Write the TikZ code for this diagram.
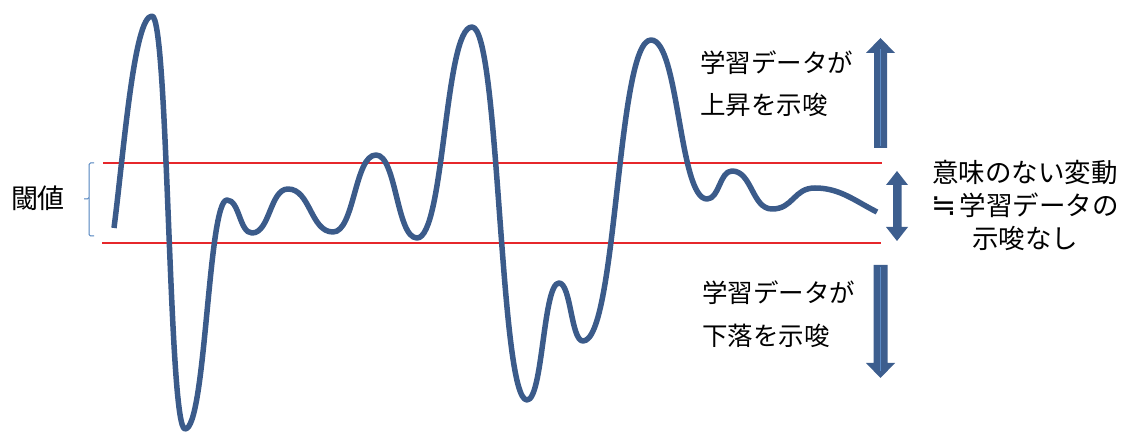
\documentclass[tikz,border=0pt]{standalone}
\usepackage{fontspec}
\newfontfamily\jp{Noto Sans CJK JP}
\newfontfamily\symf{DejaVu Sans}
\definecolor{wavec}{HTML}{3B5B8A}
\definecolor{arrowc}{HTML}{3D5E8E}
\definecolor{hlc}{HTML}{5B8BC7}
\definecolor{redl}{HTML}{E6272B}
\definecolor{bracec}{HTML}{4F81BD}
\tikzset{
  wave/.style={draw=wavec, line width=5.5pt, line cap=butt, line join=round},
  thresh/.style={draw=redl, line width=1.5pt},
  bigarrow/.style={fill=arrowc},
  highlight/.style={draw=hlc, line width=1.8pt},
  lbl/.style={font=\jp\fontsize{25.5}{42.5}\selectfont, inner sep=0pt, align=left},
}
\begin{document}
\begin{tikzpicture}[x=1pt,y=-1pt]
\useasboundingbox (0,0) rectangle (1133,435);
% threshold lines
\draw[thresh] (103,163) -- (882,163);
\draw[thresh] (102,243) -- (881,243);
% bracket
\draw[draw=bracec, line width=1pt, rounded corners=1.5pt] (94,163) -- (89,163) -- (89,199) -- (84,199);
\draw[draw=bracec, line width=1pt, rounded corners=1.5pt] (89,198) -- (89,236) -- (94,236);
\node[lbl, font=\jp\fontsize{27}{30}\selectfont] (thr) at (38,198) {閾値};
% wave
\draw[wave] (114,228) .. controls (124,150) and (134,16) .. (152,16)
 .. controls (168.5,16) and (168.5,429) .. (185,429)
 .. controls (206,429) and (208,200) .. (227,200)
 .. controls (239.5,200) and (239.5,233) .. (252,233)
 .. controls (270,233) and (270,189) .. (288,189)
 .. controls (310.5,189) and (310.5,232) .. (333,232)
 .. controls (354.5,232) and (354.5,155) .. (376,155)
 .. controls (396.5,155) and (396.5,238) .. (417,238)
 .. controls (444.5,238) and (444.5,27) .. (472,27)
 .. controls (499.5,27) and (499.5,400) .. (527,400)
 .. controls (543,400) and (543,283) .. (559,283)
 .. controls (571,283) and (571,341) .. (583,341)
 .. controls (617,341) and (617,40) .. (651,40)
 .. controls (679,40) and (679,199) .. (707,199)
 .. controls (719.5,199) and (719.5,171) .. (732,171)
 .. controls (752,171) and (752,209) .. (772,209)
 .. controls (793.5,209) and (793.5,188) .. (815,188)
 .. controls (840,188) and (855,201) .. (877,212);
% up arrow
\fill[bigarrow] (874,148) -- (874,53) -- (866,53) -- (880.5,38) -- (895,53) -- (887,53) -- (887,148) -- cycle;
\draw[highlight] (880.5,49) -- (880.5,146);
% down arrow
\fill[bigarrow] (873.5,265) -- (873.5,363) -- (866,363) -- (880.5,378) -- (895,363) -- (887.5,363) -- (887.5,265) -- cycle;
\draw[highlight] (880.5,267) -- (880.5,371);
% double arrow
\fill[bigarrow] (893,185) -- (886,185) -- (897,171) -- (908,185) -- (901.5,185) -- (901.5,227) -- (908,227) -- (897,241) -- (886,227) -- (893,227) -- cycle;
% labels
\node[lbl, anchor=west] (up) at (700,83.5) {学習データが\\上昇を示唆};
\node[lbl, anchor=west] (down) at (702,314) {学習データが\\下落を示唆};
\node[lbl, align=center, font=\jp\fontsize{26.5}{33}\selectfont] (noise) at (1025,205) {意味のない変動\\{\symf\fontsize{30}{33}\selectfont ≒}\hspace{3pt}学習データの\\示唆なし};
\end{tikzpicture}
\end{document}
